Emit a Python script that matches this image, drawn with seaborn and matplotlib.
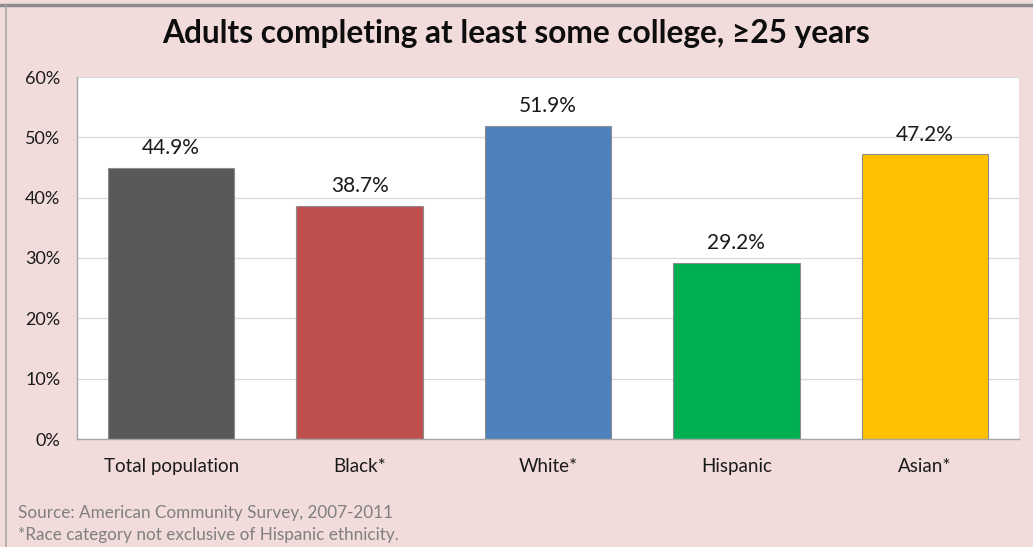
import matplotlib
matplotlib.use("Agg")
import matplotlib.pyplot as plt
import matplotlib.lines as mlines
from matplotlib.ticker import MultipleLocator, FuncFormatter
import seaborn as sns
import pandas as pd

categories = ["Total population", "Black*", "White*", "Hispanic", "Asian*"]
values = [44.9, 38.7, 51.9, 29.2, 47.2]
colors = ["#595959", "#C0504D", "#4F81BD", "#00B050", "#FFC000"]

title = "Adults completing at least some college, \u226525 years"
notes = ["Source: American Community Survey, 2007-2011",
         "*Race category not exclusive of Hispanic ethnicity."]

bg = "#F2DCDB"

sns.set_theme(style="white")
plt.rcParams["font.family"] = ["Lato", "DejaVu Sans"]

fig = plt.figure(figsize=(10.33, 5.47), dpi=100, facecolor=bg)
ax = fig.add_axes([77 / 1033, 1 - 439 / 547, (1019 - 77) / 1033, (439 - 77) / 547])
ax.set_facecolor("white")

df = pd.DataFrame({"category": categories, "value": values})
sns.barplot(data=df, x="category", y="value", hue="category", palette=colors,
            width=0.67, legend=False, ax=ax, saturation=1,
            edgecolor="#8c8c8c", linewidth=0.8)

ax.set_ylim(0, 60)
ax.set_xlim(-0.5, len(categories) - 0.5)
ax.yaxis.set_major_locator(MultipleLocator(10))
ax.yaxis.set_major_formatter(FuncFormatter(lambda v, p: f"{v:.0f}%"))
ax.grid(axis="y", color="#d9d9d9", linewidth=0.9)
ax.set_axisbelow(True)
ax.set_xlabel("")
ax.set_ylabel("")
for side in ["top", "right"]:
    ax.spines[side].set_visible(False)
for side in ["left", "bottom"]:
    ax.spines[side].set_color("#a6a6a6")
    ax.spines[side].set_linewidth(1.0)
ax.tick_params(axis="y", labelsize=13, colors="#1a1a1a", pad=12, length=0)
ax.tick_params(axis="x", labelsize=13.5, colors="#1a1a1a", pad=13.5, length=0)

for i, v in enumerate(values):
    ax.annotate(f"{v:.1f}%", (i, v), xytext=(0, 7), textcoords="offset points",
                ha="center", va="bottom", fontsize=15, color="#1a1a1a")

fig.text(0.5, 1 - 34 / 547, title, ha="center", va="center",
         fontsize=22.8, fontweight="bold", color="#0d0d0d")

fig.text(18 / 1033, 1 - 513 / 547, notes[0], ha="left", va="center",
         fontsize=12.3, color="#7f7f7f")
fig.text(18 / 1033, 1 - 535 / 547, notes[1], ha="left", va="center",
         fontsize=12.3, color="#7f7f7f")

# frame lines along the top and left edges
fig.add_artist(mlines.Line2D([0, 1], [1 - 5 / 547, 1 - 5 / 547],
                             transform=fig.transFigure, color="#8c8c8c", linewidth=2.5))
fig.add_artist(mlines.Line2D([6 / 1033, 6 / 1033], [0, 1 - 5 / 547],
                             transform=fig.transFigure, color="#a6a6a6", linewidth=1.2))

fig.savefig("out.png", dpi=100, facecolor=bg)
